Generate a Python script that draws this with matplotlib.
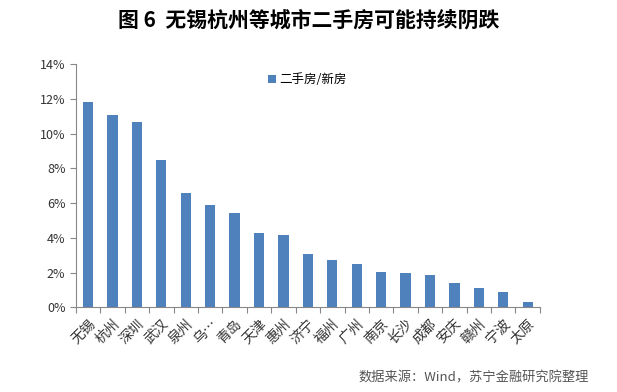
import matplotlib
matplotlib.use('Agg')
import matplotlib.pyplot as plt
from matplotlib.ticker import FuncFormatter

plt.rcParams['font.family'] = ['Noto Sans CJK SC', 'DejaVu Sans']

cities = ['无锡', '杭州', '深圳', '武汉', '泉州', '乌…', '青岛', '天津', '惠州', '济宁',
          '福州', '广州', '南京', '长沙', '成都', '安庆', '赣州', '宁波', '太原']
ratio = [11.8, 11.05, 10.65, 8.5, 6.6, 5.9, 5.45, 4.3, 4.15, 3.1,
         2.75, 2.5, 2.05, 2.0, 1.85, 1.38, 1.12, 0.9, 0.3]  # %
series_name = '二手房/新房'
title = '图 6  无锡杭州等城市二手房可能持续阴跌'
source = '数据来源：Wind，苏宁金融研究院整理'

fig = plt.figure(figsize=(6.17, 3.92), dpi=100)
ax = fig.add_axes([0.123, 0.216, 0.752, 0.62])

x = range(len(cities))
ax.bar(x, ratio, width=0.42, color='#4f81bd', label=series_name, zorder=2)

ax.set_ylim(0, 14)
ax.set_yticks(range(0, 15, 2))
ax.yaxis.set_major_formatter(FuncFormatter(lambda v, p: '%d%%' % v))
ax.set_xlim(-0.5, len(cities) - 0.5)
ax.set_xticks([i - 0.5 for i in range(len(cities) + 1)], minor=False)
ax.set_xticklabels([])
ax.set_xticks(list(x), minor=True)
ax.set_xticklabels(cities, minor=True, rotation=45, ha='right', rotation_mode='anchor',
                   fontsize=10, color='#333333')
ax.tick_params(axis='x', which='major', length=4, color='#888888')
ax.tick_params(axis='x', which='minor', length=0, pad=7)
ax.tick_params(axis='y', length=4, color='#888888', labelsize=9, labelcolor='#333333')

for s in ['top', 'right']:
    ax.spines[s].set_visible(False)
ax.spines['left'].set_color('#888888')
ax.spines['bottom'].set_color('#888888')

ax.legend(loc='upper left', bbox_to_anchor=(0.39, 1.01), frameon=False, fontsize=9,
          handlelength=0.6, handleheight=0.6, handletextpad=0.3)

fig.text(0.5, 0.95, title, ha='center', va='center', fontsize=15, fontweight='bold')
fig.text(0.955, 0.035, source, ha='right', va='center', fontsize=9.5, color='#555555',
         style='italic')

fig.savefig('out.png', dpi=100)
